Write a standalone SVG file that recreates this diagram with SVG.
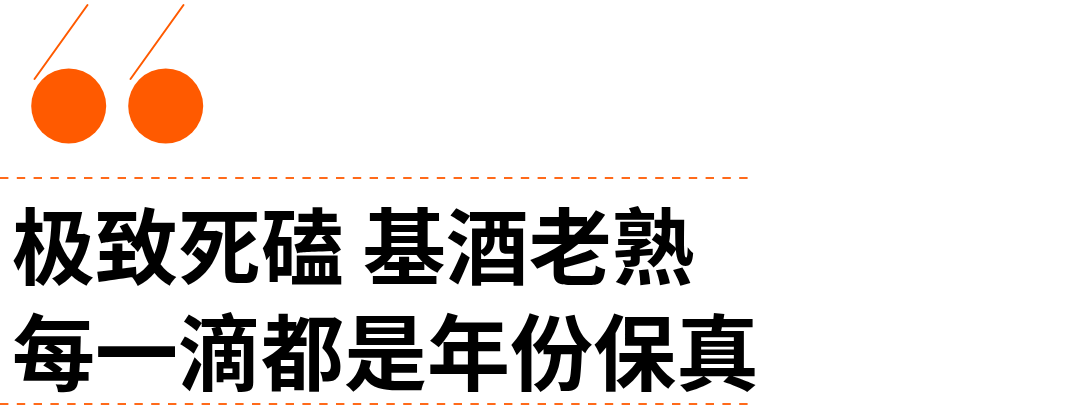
<svg xmlns="http://www.w3.org/2000/svg" width="1080" height="408" viewBox="0 0 1080 408">
<style>
.o{fill:#ff5a00}
.q{stroke:#ff5a00;stroke-width:2;stroke-linecap:round;fill:none}
.d{stroke:#ff6a1a;stroke-width:2;stroke-dasharray:8.4 8.4;fill:none}
.t{font-family:"Noto Sans CJK SC","Noto Sans CJK JP",sans-serif;font-weight:700;font-size:83px;fill:#000}
</style>
<rect width="1080" height="408" fill="#fff"/>
<g id="quote">
<line class="q" x1="34.5" y1="79" x2="87.5" y2="5"/>
<line class="q" x1="130.5" y1="79" x2="183.5" y2="5"/>
<circle class="o" cx="68.7" cy="106" r="37.5"/>
<circle class="o" cx="165.7" cy="106" r="37.5"/>
</g>
<g id="rules">
<line class="d" x1="0" y1="178" x2="752" y2="178"/>
<line class="d" x1="0" y1="404" x2="752" y2="404"/>
</g>
<g id="title">
<text class="t" x="12" y="278">极致死磕 基酒老熟</text>
<text class="t" x="12" y="384">每一滴都是年份保真</text>
</g>
</svg>
